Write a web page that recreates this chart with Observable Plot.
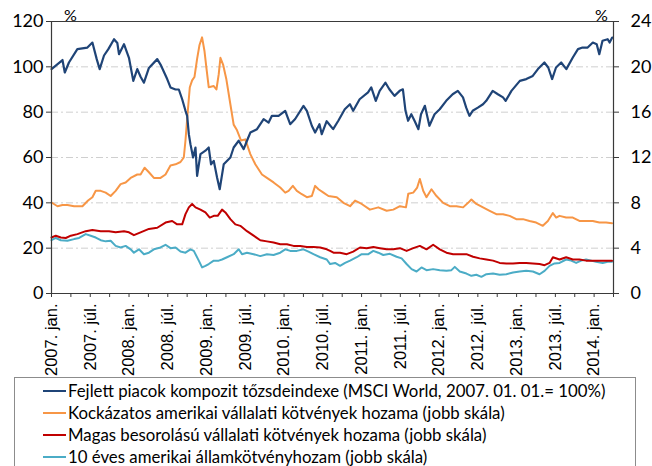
<!DOCTYPE html>
<html>
<head>
<meta charset="utf-8">
<script src="https://cdn.jsdelivr.net/npm/d3@7"></script>
<script src="https://cdn.jsdelivr.net/npm/@observablehq/plot@0.6"></script>
<style>
  html, body { margin: 0; padding: 0; background: #fff; }
  #chart svg { display: block; }
  .legend { box-sizing: border-box; margin-left: 14px; width: 622px; height: 92px; border: 1px solid #8c8c8c; padding-top: 2px; padding-left: 28px; font-family: Lato, sans-serif; font-size: 16.8px; color: #000; overflow: hidden; }
  .legend .row { height: 21.9px; line-height: 21.9px; white-space: nowrap; display: flex; align-items: center; }
  .legend .sw { display: inline-block; width: 23px; height: 2px; margin-right: 2px; }
</style>
</head>
<body>
<div id="chart"></div>
<script>
// x values are months since 2007. jan.
const xLabels = ["2007. jan.","2007. júl.","2008. jan.","2008. júl.","2009. jan.","2009. júl.","2010. jan.","2010. júl.","2011. jan.","2011. júl.","2012. jan.","2012. júl.","2013. jan.","2013. júl.","2014. jan."];
const labelMonths = [0,6,12,18,24,30,36,42,48,54,60,66,72,78,84];
const quarterMonths = [0,3,6,9,12,15,18,21,24,27,30,33,36,39,42,45,48,51,54,57,60,63,66,69,72,75,78,81,84,87];
const leftTicks = [0,20,40,60,80,100,120];
const rightTicks = [0,4,8,12,16,20,24];
const gridValues = [20,40,60,80,100];

const seriesNames = [
  "Fejlett piacok kompozit tőzsdeindexe (MSCI World, 2007. 01. 01.= 100%)",
  "Kockázatos amerikai vállalati kötvények hozama (jobb skála)",
  "Magas besorolású vállalati kötvények hozama (jobb skála)",
  "10 éves amerikai államkötvényhozam (jobb skála)"
];
const seriesColors = ["#1f4477", "#f79646", "#c00000", "#4bacc6"];

// MSCI World index (left scale, %)
const msciMonths = [0,1.7,2.06,2.7,4.0,5.56,6.33,7.0,7.46,8.13,8.8,9.68,10.19,10.45,11.22,11.99,12.66,13.28,13.79,14.31,15.08,16.37,16.88,17.91,18.42,19.2,19.71,20.23,20.74,21.0,21.26,21.51,21.92,22.29,22.54,23.06,23.83,24.34,24.7,25.12,25.63,26.04,26.66,27.69,28.2,28.98,29.75,30.26,30.78,31.81,32.84,33.61,34.12,35.15,36.18,36.95,37.72,39.01,39.53,40.3,40.81,41.48,41.84,42.6,43.6,44.4,45.4,46.2,46.7,47.7,49.0,49.5,50.2,50.8,51.7,52.3,53.1,53.9,54.4,54.8,55.2,55.7,56.2,56.8,57.2,57.8,58.5,59.3,60.1,61.1,62.1,62.9,63.7,64.2,64.7,65.2,66.0,66.8,67.3,68.3,69.1,69.9,70.3,71.2,72.5,73.5,74.5,75.3,76.3,76.9,77.5,78.1,78.9,79.7,80.7,81.5,82.2,83.0,83.8,84.4,84.8,85.3,86.1,86.4,86.8];
const msciValues = [99,103,97.5,101.9,107.8,108.5,110.7,103.4,99,105,107.8,112.2,110.5,105.6,110,104,93.8,99,95.6,93,99.5,103.4,101,94.6,90.9,90,90,85.7,80.6,78.4,70.3,65.9,60,64.4,51.9,61.5,63,64.4,57,58.5,51.2,46,57,60,64.4,67.4,63.7,67.4,71,72.5,76.9,75.4,78.4,78.4,80.6,74.7,77,82.8,80.6,74,71,74.7,70.3,76,72.5,76.2,81.3,83.5,80.6,85.7,88.7,90.9,85,89.4,93,90.1,87.2,89.4,90.1,80.6,76.2,79.1,76.2,72.5,79.1,82.8,74,79.1,81.3,85,87.9,89.4,86.5,82,78.4,80.6,82,83.5,85,89.4,87.9,86.5,85,89.4,93.8,94.6,96,99,101.9,99.7,94.6,99.7,101.9,99,104.1,107.8,108.5,108.5,110.7,110,105.6,111.5,112.2,110.7,112.9];

// High-yield US corporate bond yield (right scale, %)
const hyMonths = [0,0.93,1.7,2.47,3.5,4.79,5.66,6.33,6.85,7.62,8.39,9.16,9.93,10.7,11.48,12.25,13.28,13.79,14.41,15.08,15.85,16.88,17.65,18.42,19.2,19.97,20.48,20.74,21.1,21.41,21.77,22.13,22.54,22.9,23.31,23.68,23.98,24.34,25.12,25.53,25.89,26.15,26.56,27.07,27.69,28.2,28.72,29.34,30.0,30.78,31.55,32.58,33.35,34.38,35.41,36.18,36.7,37.36,37.98,38.75,39.53,40.3,40.81,41.33,42.1,42.87,44.16,45.19,46.22,46.99,48.02,49.3,50.59,51.88,52.91,53.94,54.87,55.23,56.0,56.61,57.02,57.54,58.05,58.82,59.6,60.63,61.66,62.69,63.72,64.49,65.0,65.77,66.8,67.83,68.86,69.89,70.92,71.95,72.98,74.0,75.03,76.06,76.84,77.61,78.13,78.64,79.67,80.7,81.73,82.76,83.79,84.82,85.85,86.77];
const hyValues = [8.03,7.7,7.8,7.8,7.7,7.7,8.2,8.5,9.06,9.06,8.9,8.6,9.06,9.65,9.8,10.2,10.5,10.5,11.1,10.7,10.2,10.2,10.5,11.3,11.4,11.6,12.0,13.5,16.1,18.2,18.8,19.1,20.7,21.9,22.6,21.4,19.9,18.2,18.3,18.0,19.35,20.8,20.2,18.9,16.7,14.9,14.4,13.5,13.6,12.3,11.4,10.5,10.2,9.8,9.35,8.9,9.06,9.5,9.06,8.76,8.5,8.6,9.5,9.2,8.9,8.6,8.5,8.0,7.7,8.2,7.9,7.4,7.6,7.3,7.4,7.7,7.6,8.8,8.9,9.35,10.1,9.06,8.5,9.2,8.6,8.0,7.7,7.7,7.6,8.0,8.3,7.9,7.6,7.3,7.0,7.0,6.85,6.56,6.56,6.4,6.26,5.97,6.4,7.1,6.7,6.85,6.7,6.7,6.4,6.4,6.4,6.26,6.26,6.2];

// Investment-grade corporate bond yield (right scale, %)
const igMonths = [0,0.67,1.44,2.21,2.99,4.01,5.3,6.33,7.62,8.9,9.93,11.22,11.99,12.76,13.79,15.08,16.37,17.65,18.68,19.45,20.23,20.74,21.26,21.77,22.29,23.06,23.83,24.5,25.12,25.73,26.4,26.92,27.69,28.46,29.23,30.26,31.29,32.32,33.35,34.38,35.41,36.44,37.47,38.5,39.53,40.56,41.59,42.61,43.13,43.65,44.67,45.7,46.7,47.76,48.79,49.82,50.85,51.88,52.91,53.94,54.97,56.0,57.02,58.05,59.08,60.11,61.14,62.17,63.2,64.23,65.26,66.29,67.32,68.35,69.38,70.41,71.44,72.47,73.49,74.52,75.55,76.33,77.1,77.62,78.65,79.67,80.7,81.73,82.76,83.79,84.82,85.85,86.77];
const igValues = [4.94,5.1,4.94,4.9,5.1,5.24,5.5,5.6,5.5,5.5,5.4,5.5,5.4,5.15,5.4,5.7,5.8,6.26,6.4,6.1,6.1,7.0,7.6,7.9,7.6,7.4,7.15,6.7,6.85,6.85,7.4,7.15,6.56,6.1,5.97,5.5,5.1,4.7,4.6,4.5,4.35,4.35,4.2,4.2,4.1,4.1,4.06,3.9,3.76,3.6,3.6,3.47,3.7,4.06,4.0,4.1,4.0,3.9,3.9,4.0,3.76,4.0,4.2,3.9,4.3,3.9,3.6,3.47,3.47,3.47,3.24,3.1,3.0,2.9,2.7,2.65,2.65,2.7,2.7,2.65,2.6,2.5,2.7,3.2,3.0,3.2,3.0,3.0,2.9,2.9,2.9,2.9,2.9];

// 10-year US Treasury yield (right scale, %)
const tsyMonths = [0,0.67,1.44,2.47,3.5,4.27,5.3,6.07,6.85,7.62,8.39,9.16,9.93,10.7,11.48,12.25,12.76,13.54,14.31,15.08,15.85,16.88,17.65,18.42,19.2,19.97,20.74,21.51,22.03,22.8,23.31,23.83,24.34,25.12,25.89,26.4,27.17,28.2,28.98,29.49,30.26,31.29,32.32,33.35,34.38,35.41,36.18,36.95,37.98,39.01,39.78,40.56,41.59,42.61,43.13,43.9,44.67,45.45,46.22,47.25,48.02,49.05,49.82,50.59,51.36,52.39,53.42,54.2,54.97,55.74,56.51,57.28,58.05,59.08,60.11,61.14,61.91,62.43,63.2,64.23,65.0,65.77,66.55,67.32,68.35,69.38,70.41,71.44,72.47,73.49,74.52,75.55,76.33,77.1,77.87,78.65,79.67,80.45,81.22,82.0,82.76,83.53,84.3,85.33,86.1,86.77];
const tsyValues = [4.7,4.9,4.7,4.65,4.8,4.9,5.24,5.1,4.94,4.7,4.6,4.65,4.2,4.06,4.2,3.9,3.6,3.9,3.47,3.6,3.9,4.06,4.3,4.0,4.06,3.7,3.6,3.9,3.76,2.9,2.3,2.44,2.6,2.9,2.9,3.0,3.2,3.47,3.9,3.47,3.6,3.47,3.3,3.47,3.4,3.6,3.9,3.76,3.76,3.9,3.7,3.47,3.2,3.0,2.6,2.7,2.44,2.7,2.9,3.2,3.47,3.47,3.76,3.6,3.4,3.5,3.24,3.1,2.6,2.15,1.94,2.3,2.06,2.15,2.06,2.0,2.06,2.35,1.94,1.76,1.56,1.65,1.47,1.7,1.76,1.65,1.7,1.85,1.94,2.0,1.94,1.7,2.0,2.44,2.65,2.7,3.0,2.9,2.7,2.9,3.0,2.9,2.8,2.7,2.8,2.8];

// right scale maps onto left scale: 24 -> 120
const rightToLeft = 120 / 24;

const msci = msciMonths.map((m, i) => ({m, v: msciValues[i]}));
const hy = hyMonths.map((m, i) => ({m, v: hyValues[i] * rightToLeft}));
const ig = igMonths.map((m, i) => ({m, v: igValues[i] * rightToLeft}));
const tsy = tsyMonths.map((m, i) => ({m, v: tsyValues[i] * rightToLeft}));

const axisColor = "#3a3a3a";

const chart = Plot.plot({
  width: 652,
  height: 377,
  marginLeft: 51,
  marginRight: 39,
  marginTop: 21,
  marginBottom: 84,
  style: {fontFamily: "Lato, sans-serif", fontSize: "18px", color: "#000", background: "#fff"},
  x: {domain: [0, 87]},
  y: {domain: [0, 120]},
  marks: [
    Plot.ruleY(gridValues, {stroke: "#cfcfcf", strokeDasharray: "7,3,2,3", strokeWidth: 1}),
    Plot.line(tsy, {x: "m", y: "v", stroke: seriesColors[3], strokeWidth: 2}),
    Plot.line(ig, {x: "m", y: "v", stroke: seriesColors[2], strokeWidth: 2}),
    Plot.line(hy, {x: "m", y: "v", stroke: seriesColors[1], strokeWidth: 2}),
    Plot.line(msci, {x: "m", y: "v", stroke: seriesColors[0], strokeWidth: 2.2}),
    Plot.ruleY([0, 120], {stroke: axisColor, strokeWidth: 1.2}),
    Plot.ruleX([0, 87], {stroke: axisColor, strokeWidth: 1.2}),
    Plot.axisY({ticks: leftTicks, tickSize: 5, tickPadding: 3, label: null, stroke: axisColor, fontSize: 18}),
    Plot.axisY({anchor: "right", ticks: rightTicks.map(v => v * rightToLeft), tickFormat: d => String(d / rightToLeft), tickSize: 5, tickPadding: 12, label: null, stroke: axisColor, fontSize: 18}),
    Plot.axisX({ticks: quarterMonths, tickFormat: () => "", tickSize: 4, label: null, stroke: axisColor}),
    Plot.axisX({ticks: labelMonths, tickFormat: d => xLabels[labelMonths.indexOf(d)], tickRotate: -90, tickSize: 0, tickPadding: 10, label: null, fontSize: 16.5, fontFamily: "Liberation Sans, Arial, sans-serif"}),
    Plot.text(["%"], {text: d => d, frameAnchor: "top-left", dx: 19, dy: -1, lineAnchor: "bottom", textAnchor: "middle", fontSize: 16}),
    Plot.text(["%"], {text: d => d, frameAnchor: "top-right", dx: -12, dy: -1, lineAnchor: "bottom", textAnchor: "middle", fontSize: 16})
  ]
});

const root = document.getElementById("chart");
root.appendChild(chart);

const legend = document.createElement("div");
legend.className = "legend";
seriesNames.forEach((name, i) => {
  const row = document.createElement("div");
  row.className = "row";
  const sw = document.createElement("span");
  sw.className = "sw";
  sw.style.background = seriesColors[i];
  const label = document.createElement("span");
  label.textContent = name;
  row.appendChild(sw);
  row.appendChild(label);
  legend.appendChild(row);
});
root.appendChild(legend);
</script>
</body>
</html>
